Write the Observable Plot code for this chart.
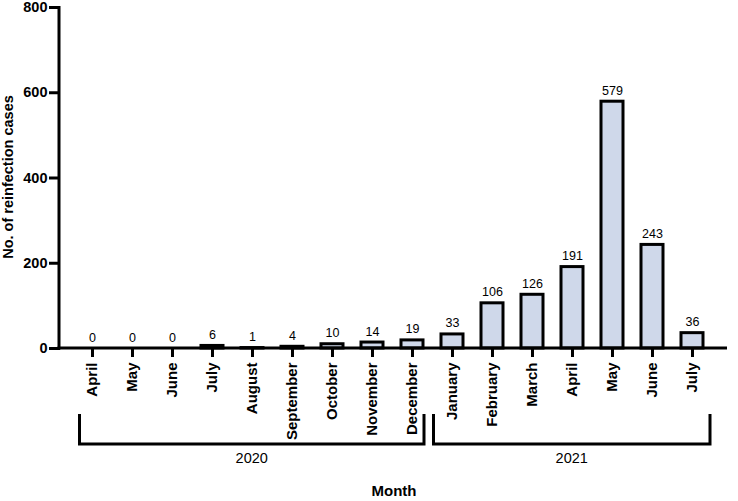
<!DOCTYPE html>
<html>
<head>
<meta charset="utf-8">
<script src="https://cdn.jsdelivr.net/npm/d3@7"></script>
<script src="https://cdn.jsdelivr.net/npm/@observablehq/plot@0.6"></script>
<style>
  html, body { margin: 0; padding: 0; background: #fff; }
  #chart svg { font-family: "Liberation Sans", Arial, Helvetica, sans-serif; }
</style>
</head>
<body>
<div id="chart"></div>
<script>
const months = ["April","May","June","July","August","September","October","November","December",
                "January","February","March","April","May","June","July"];
const monthYears = ["2020","2020","2020","2020","2020","2020","2020","2020","2020",
                    "2021","2021","2021","2021","2021","2021","2021"];
const cases = [0, 0, 0, 6, 1, 4, 10, 14, 19, 33, 106, 126, 191, 579, 243, 36];
const yTicks = [0, 200, 400, 600, 800];
const years = ["2020", "2021"];
const yearFirst = ["April 2020", "January 2021"];
const yearLast = ["December 2020", "July 2021"];
const yTitle = "No. of reinfection cases";
const xTitle = "Month";

const data = months.map((m, i) => ({key: `${m} ${monthYears[i]}`, month: m, value: cases[i]}));

function brackets(index, scales, values, dimensions) {
  const x = scales.x;
  const bottom = dimensions.height - dimensions.marginBottom;
  const offs = [[-12.5, 12], [-18.5, 18]];
  const g = d3.create("svg:g");
  years.forEach((yr, i) => {
    const x1 = x(yearFirst[i]) + x.bandwidth() / 2 + offs[i][0];
    const x2 = x(yearLast[i]) + x.bandwidth() / 2 + offs[i][1];
    g.append("path")
      .attr("d", `M${x1},${bottom + 66}V${bottom + 96}H${x2}V${bottom + 66}`)
      .attr("fill", "none").attr("stroke", "#000").attr("stroke-width", 3)
      .attr("stroke-linejoin", "miter");
    g.append("text")
      .attr("x", (x1 + x2) / 2).attr("y", bottom + 115)
      .attr("text-anchor", "middle").attr("font-size", 14.5).attr("fill", "#000")
      .text(yr);
  });
  // axis lines
  g.append("line").attr("x1", dimensions.marginLeft - 1).attr("x2", dimensions.marginLeft - 1)
    .attr("y1", dimensions.marginTop - 1).attr("y2", bottom + 1.5)
    .attr("stroke", "#000").attr("stroke-width", 3);
  g.append("line").attr("x1", dimensions.marginLeft - 2.5).attr("x2", dimensions.width - dimensions.marginRight)
    .attr("y1", bottom).attr("y2", bottom)
    .attr("stroke", "#000").attr("stroke-width", 3);
  return g.node();
}

const chart = Plot.plot({
  width: 738,
  height: 501,
  marginTop: 7,
  marginBottom: 153,
  marginLeft: 60,
  marginRight: 11,
  style: {background: "#fff", color: "#000"},
  x: {domain: data.map(d => d.key), paddingInner: 0.44, paddingOuter: 0.3, insetLeft: 2.3, insetRight: 4.2, label: null},
  y: {domain: [0, 800], label: null},
  marks: [
    Plot.barY(data, {x: "key", y: "value", fill: "#cfd8ea", stroke: "#000", strokeWidth: 3}),
    Plot.text(data, {x: "key", y: "value", text: d => String(d.value), dy: -7, lineAnchor: "bottom", fontSize: 12.5, fill: "#000"}),
    Plot.axisY({ticks: yTicks, tickSize: 11, strokeWidth: 3, tickFormat: () => "", label: null}),
    Plot.text(yTicks, {y: d => d, text: d => String(d), frameAnchor: "left", textAnchor: "end", dx: -13, fontSize: 14.5, fontWeight: "bold", fill: "#000"}),
    Plot.axisX({tickSize: 9, strokeWidth: 3, tickFormat: () => "", label: null}),
    Plot.text(data, {x: "key", text: "month", frameAnchor: "bottom", rotate: -90, textAnchor: "end", lineAnchor: "middle", dy: 14, fontSize: 15, fontWeight: "bold", fill: "#000"}),
    Plot.text([yTitle], {frameAnchor: "left", rotate: -90, textAnchor: "middle", dx: -52, dy: -1, fontSize: 14.5, fontWeight: "bold", fill: "#000"}),
    Plot.text([xTitle], {frameAnchor: "bottom", dy: 147, fontSize: 15, fontWeight: "bold", fill: "#000"}),
    brackets
  ]
});
document.getElementById("chart").appendChild(chart);
</script>
</body>
</html>
